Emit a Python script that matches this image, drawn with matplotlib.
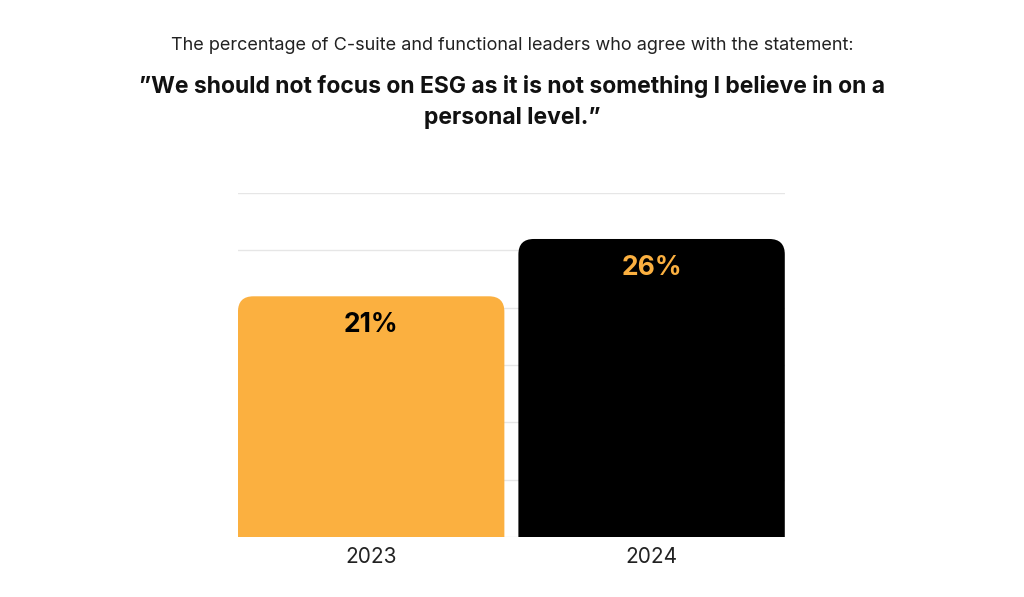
import matplotlib.pyplot as plt
from matplotlib.patches import FancyBboxPatch

years = ["2023", "2024"]
values = [21, 26]
bar_colors = ["#FBB040", "#000000"]
label_colors = ["#000000", "#FBB040"]

plt.rcParams["font.family"] = "Inter"

fig = plt.figure(figsize=(10.24, 5.97), dpi=100)
ax = fig.add_axes([0.2324, 0.1005, 0.534, 0.576])

width = 0.95
ax.set_xlim(-width / 2, 1 + width / 2)
ax.set_ylim(0, 30)
ax.set_yticks(range(0, 31, 5))
ax.grid(axis="y", color="#e6e6e6", linewidth=1)
ax.set_axisbelow(True)
ax.tick_params(left=False, bottom=False, labelleft=False, labelsize=15)
for s in ax.spines.values():
    s.set_visible(False)

for i, (v, c) in enumerate(zip(values, bar_colors)):
    patch = FancyBboxPatch((i - width / 2, -3), width, v + 3,
                           boxstyle="round,pad=0,rounding_size=0.055",
                           mutation_aspect=24.5, facecolor=c, edgecolor="none",
                           zorder=2)
    ax.add_patch(patch)
    ax.text(i, v - 2.5, f"{v}%", ha="center", va="center", fontsize=19,
            fontweight="bold", color=label_colors[i], zorder=3)

ax.set_xticks(range(len(years)))
ax.set_xticklabels(years, color="#222222")

fig.text(0.5, 1 - 46 / 597, "The percentage of C-suite and functional leaders who agree with the statement:",
         ha="center", va="center", fontsize=13, color="#222222")
fig.text(0.5, 1 - 102 / 597, "\u201dWe should not focus on ESG as it is not something I believe in on a\npersonal level.\u201d",
         ha="center", va="center", fontsize=16.5, fontweight="bold", color="#111111",
         linespacing=1.5)

fig.savefig("out.png", dpi=100)
